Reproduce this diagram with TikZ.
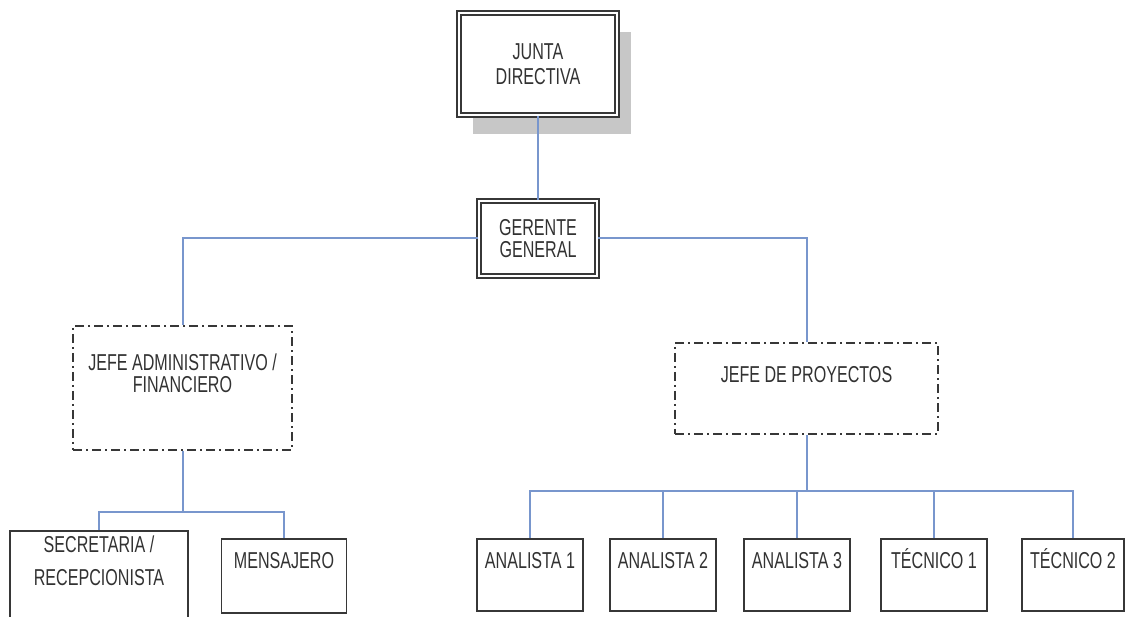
\documentclass[tikz,border=0pt]{standalone}
\usepackage{fontspec}
\setmainfont{Liberation Sans}[FakeStretch=0.70]
\usetikzlibrary{positioning,shadows}

\definecolor{linea}{RGB}{120,150,205}
\definecolor{borde}{RGB}{55,55,55}
\definecolor{texto}{RGB}{50,50,50}

\begin{document}
\begin{tikzpicture}[x=1pt,y=-1pt,
  every node/.style={font=\fontsize{23}{22}\selectfont,text=texto},
  doble/.style={draw=borde,double=white,double distance=2.6pt,line width=1.5pt,align=center,fill=white},
  jefe/.style={draw=borde,line width=2pt,dash pattern=on 9pt off 4pt on 2pt off 4pt,anchor=north,inner ysep=0pt,align=center},
  cargo/.style={draw=borde,line width=1.8pt,anchor=north,inner ysep=0pt,text height=30pt,text depth=42pt,align=center},
  conector/.style={draw=linea,line width=2pt}
]
\clip (0,0) rectangle (1125,617);
\node[doble,drop shadow={shadow xshift=14pt,shadow yshift=-19pt,fill=black!22,opacity=1},minimum width=158pt,minimum height=102pt] (junta) at (538,64) {JUNTA\\[3pt]DIRECTIVA};
\node[doble,minimum width=118pt,minimum height=75pt] (gerente) at (538,238.5) {GERENTE\\GENERAL};
\node[jefe,minimum width=219pt,text height=67pt,text depth=57pt] (jadm) at (182.5,325) {JEFE ADMINISTRATIVO /\\FINANCIERO};
\node[jefe,minimum width=263pt,text height=40pt,text depth=51pt] (jproy) at (806.5,342) {JEFE DE PROYECTOS};
% personal de apoyo
\node[cargo,minimum width=178pt,text height=55pt,text depth=80pt] (sec) at (99,530) {SECRETARIA /\\[11pt]RECEPCIONISTA};
\node[cargo,minimum width=125pt,text depth=44pt] (mens) at (284,538) {MENSAJERO};
% equipo de proyectos
\node[cargo,minimum width=106pt] (an1) at (530,538) {ANALISTA 1};
\node[cargo,minimum width=106pt] (an2) at (663,538) {ANALISTA 2};
\node[cargo,minimum width=106pt] (an3) at (797,538) {ANALISTA 3};
\node[cargo,minimum width=106pt] (tec1) at (934,538) {TÉCNICO 1};
\node[cargo,minimum width=102pt] (tec2) at (1073,538) {TÉCNICO 2};
\coordinate (busadm) at (182.5,512);
\coordinate (busproy) at (806.5,491);
\draw[conector] (junta.south) -- (gerente.north);
\draw[conector] (gerente.west) -| (jadm.north);
\draw[conector] (gerente.east) -| (jproy.north);
\draw[conector] (jadm.south) -- (busadm);
\draw[conector] (sec.north) |- (busadm) -| (mens.north);
\draw[conector] (jproy.south) -- (busproy);
\draw[conector] (an1.north) |- (busproy) -| (tec2.north);
\foreach \n in {an2,an3,tec1}
  \draw[conector] (\n.north) -- (\n.north |- busproy);
\end{tikzpicture}
\end{document}
